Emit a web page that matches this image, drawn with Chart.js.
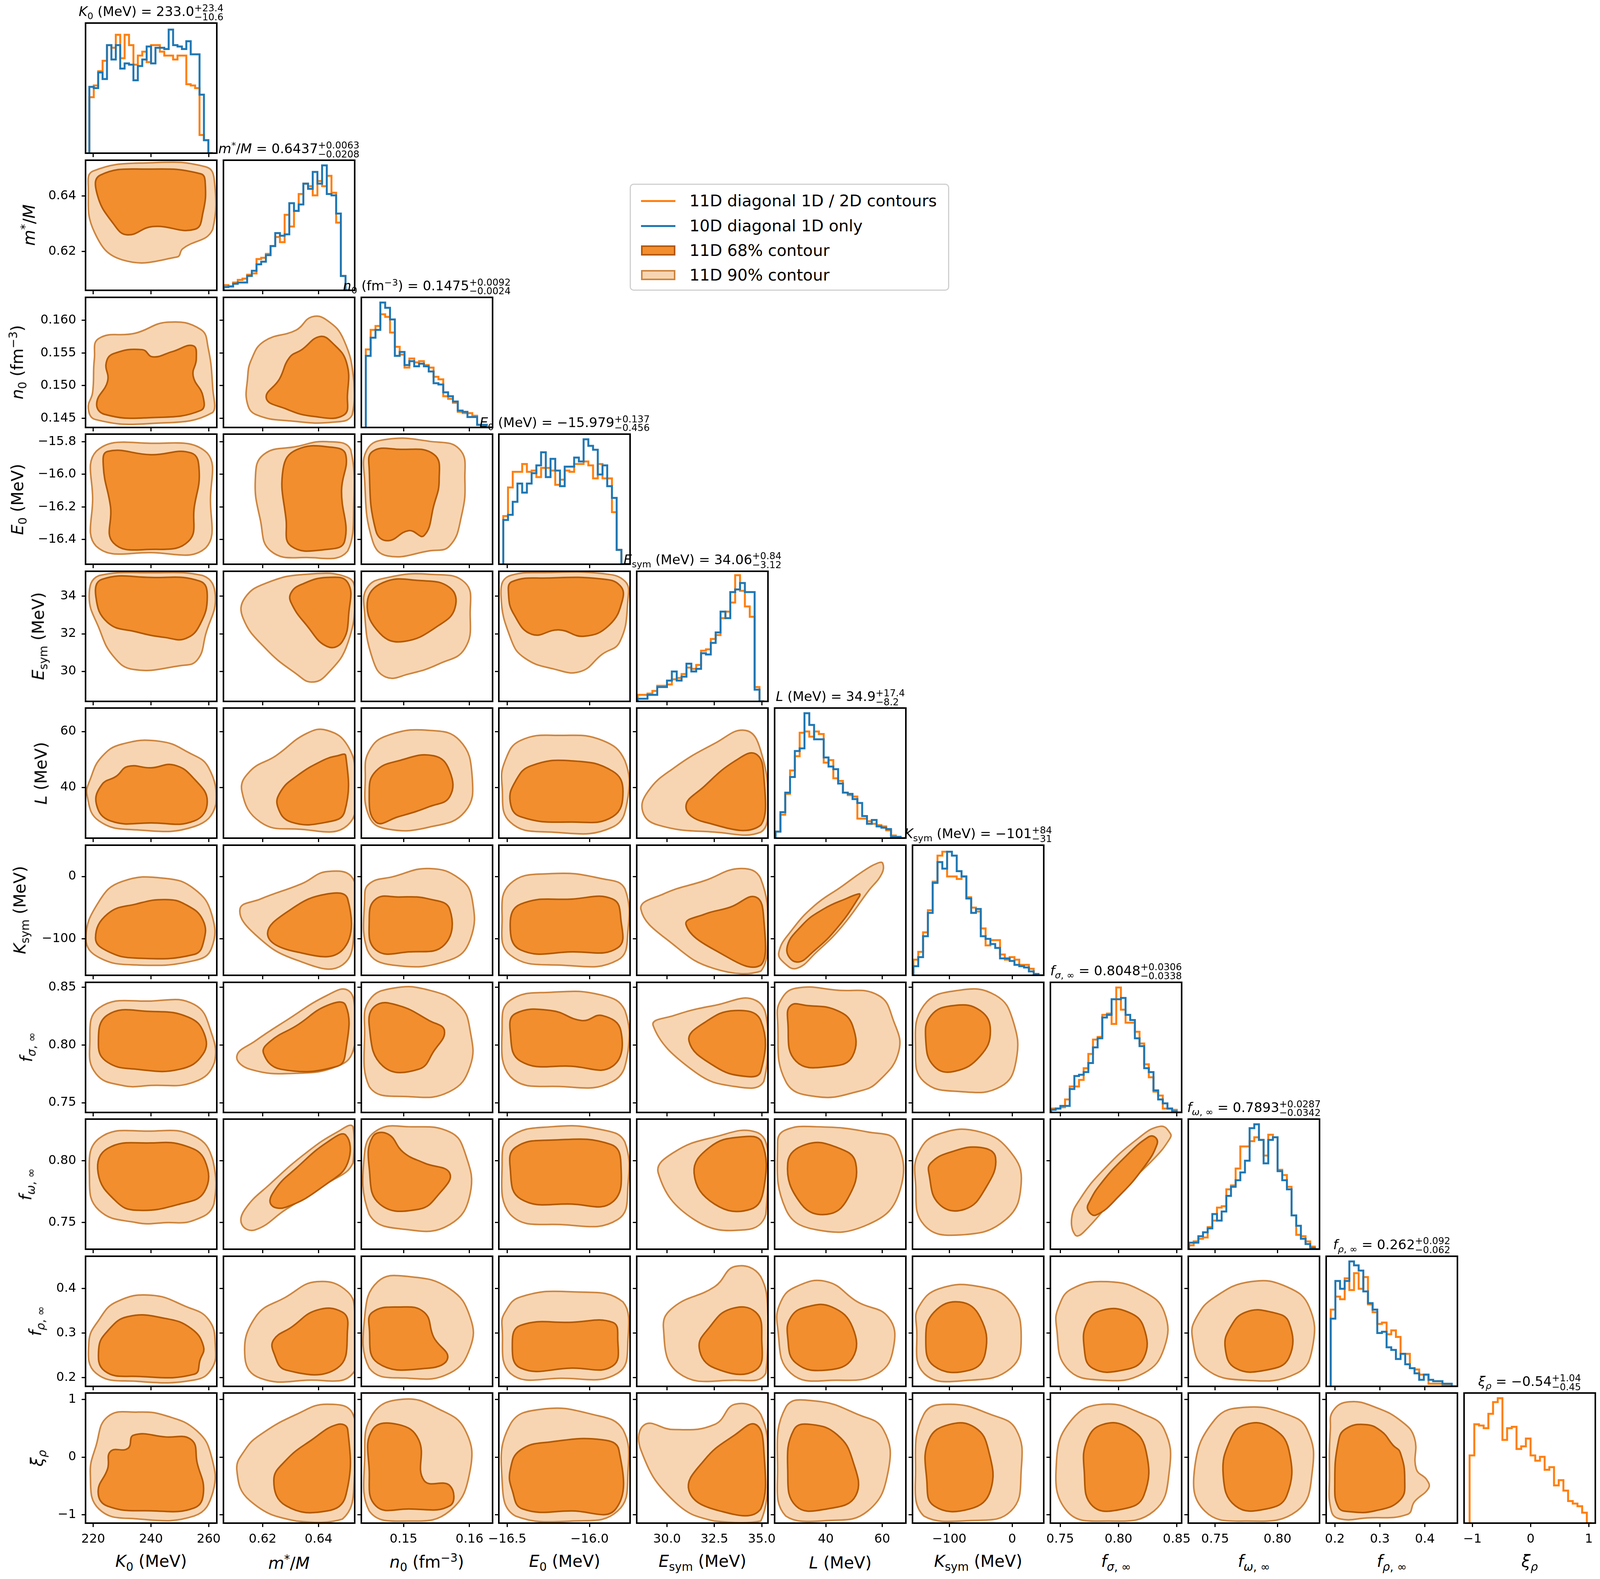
<!DOCTYPE html>
<html lang="en">
<head>
<meta charset="UTF-8">
<title>Corner plot</title>
<script src="https://cdn.jsdelivr.net/npm/chart.js"></script>
<style>
  body { margin:0; background:#fff; font-family:"DejaVu Sans", sans-serif; }
  #page { position:relative; width:4097px; height:4041px; overflow:hidden; }
  canvas { position:absolute; }
  .ttl { position:absolute; font-size:34px; text-align:center; white-space:nowrap; transform:translateY(-100%); }
  .ss { display:inline-block; vertical-align:-0.42em; font-size:0.72em; line-height:0.92; text-align:left; }
  .ss span { display:block; }
  .xl { position:absolute; font-size:42px; text-align:center; white-space:nowrap; transform:translate(-50%,-50%); }
  .yl { position:absolute; font-size:42px; white-space:nowrap; transform:translate(-50%,-50%) rotate(-90deg); }
  sub, sup { font-size:0.7em; }
  #legend { position:absolute; left:1612px; top:470px; width:812px; height:268px; border:3px solid #d0d0d0; border-radius:10px; background:#fff; font-size:41px; }
  .le { position:absolute; left:26px; height:50px; display:flex; align-items:center; }
  .hl { width:88px; height:0; border-top:5px solid; margin-right:36px; }
  .hp { width:88px; height:26px; border:4px solid; box-sizing:border-box; margin-right:36px; }
</style>
</head>
<body>
<div id="page">
  <div id="legend">
    <div class="le" style="top:16px"><div class="hl" style="border-color:#ff7f0e"></div>11D diagonal 1D / 2D contours</div>
    <div class="le" style="top:80px"><div class="hl" style="border-color:#1f77b4"></div>10D diagonal 1D only</div>
    <div class="le" style="top:143px"><div class="hp" style="background:#f28e2e;border-color:#b35900"></div>11D 68% contour</div>
    <div class="le" style="top:206px"><div class="hp" style="background:#f8d5b2;border-color:#cd853f"></div>11D 90% contour</div>
  </div>
</div>
<script>
// ---- axes ----
const axisMin = [217.34, 0.606, 0.1436, -16.551, 28.4, 21.84, -158.6, 0.7416, 0.7285, 0.1807, -1.144];
const axisMax = [262.8, 0.6529, 0.1635, -15.754, 35.33, 68.4, 50.3, 0.8542, 0.8337, 0.4724, 1.111];
const xTickVals = [[220,240,260],[0.62,0.64],[0.15,0.16],[-16.5,-16.0],[30,32.5,35],[40,60],[-100,0],[0.75,0.80,0.85],[0.75,0.80],[0.2,0.3,0.4],[-1,0,1]];
const xTickLabels = [['220','240','260'],['0.62','0.64'],['0.15','0.16'],['\u221216.5','\u221216.0'],['30.0','32.5','35.0'],['40','60'],['\u2212100','0'],['0.75','0.80','0.85'],['0.75','0.80'],['0.2','0.3','0.4'],['\u22121','0','1']];
const yTickVals = [[],[0.62,0.64],[0.145,0.150,0.155,0.160],[-16.4,-16.2,-16.0,-15.8],[30,32,34],[40,60],[-100,0],[0.75,0.80,0.85],[0.75,0.80],[0.2,0.3,0.4],[-1,0,1]];
const yTickLabels = [[],['0.62','0.64'],['0.145','0.150','0.155','0.160'],['\u221216.4','\u221216.2','\u221216.0','\u221215.8'],['30','32','34'],['40','60'],['\u2212100','0'],['0.75','0.80','0.85'],['0.75','0.80'],['0.2','0.3','0.4'],['\u22121','0','1']];
const axisLabels = ['<i>K</i><sub>0</sub> (MeV)','<i>m</i><sup>*</sup>/<i>M</i>','<i>n</i><sub>0</sub> (fm<sup>\u22123</sup>)','<i>E</i><sub>0</sub> (MeV)','<i>E</i><sub>sym</sub> (MeV)','<i>L</i> (MeV)','<i>K</i><sub>sym</sub> (MeV)','<i>f</i><sub><i>\u03c3</i>, \u221e</sub>','<i>f</i><sub><i>\u03c9</i>, \u221e</sub>','<i>f</i><sub><i>\u03c1</i>, \u221e</sub>','<i>\u03be</i><sub><i>\u03c1</i></sub>'];
const titleVals = [['233.0','+23.4','\u221210.6'],['0.6437','+0.0063','\u22120.0208'],['0.1475','+0.0092','\u22120.0024'],['\u221215.979','+0.137','\u22120.456'],['34.06','+0.84','\u22123.12'],['34.9','+17.4','\u22128.2'],['\u2212101','+84','\u221231'],['0.8048','+0.0306','\u22120.0338'],['0.7893','+0.0287','\u22120.0342'],['0.262','+0.092','\u22120.062'],['\u22120.54','+1.04','\u22120.45']];
const yLabelX = [0, 73, 46, 48, 101, 105, 54, 71, 69, 94, 98];

// ---- 1D histograms (fraction of panel height) ----
const binLo = [218.66, 0.6061, 0.14428, -16.524, 28.455, 22.2, -157.1, 0.7422, 0.7291, 0.1908, -1.049];
const binHi = [261.4, 0.6513, 0.16336, -15.778, 35.14, 68.25, 49.6, 0.8540, 0.8337, 0.4702, 1.046];
const blueK0 = [.13,.51,.50,.62,.57,.83,.72,.83,.65,.69,.68,.56,.67,.72,.82,.69,.81,.81,.80,.95,.83,.82,.80,.86,.76,.76,.45,.10];
const orangeK0 = [.12,.43,.52,.63,.71,.83,.81,.91,.73,.91,.83,.68,.75,.78,.70,.83,.83,.78,.75,.75,.72,.75,.75,.53,.52,.50,.14,.10];
const blueM = [.02,.025,.03,.05,.06,.06,.11,.15,.20,.22,.27,.34,.44,.42,.43,.67,.61,.66,.82,.78,.91,.82,.96,.74,.73,.59,.11];
const orangeM = [.03,.04,.03,.06,.08,.09,.12,.13,.24,.25,.28,.34,.41,.37,.58,.49,.61,.74,.82,.80,.73,.84,.80,.88,.75,.52,.11];
const blueN0 = [.08,.55,.69,.75,.96,.92,.83,.55,.58,.48,.51,.47,.49,.47,.43,.34,.33,.27,.24,.20,.13,.12,.08,.08,.02,.02];
const orangeN0 = [.08,.60,.75,.78,.87,.85,.73,.62,.56,.46,.53,.50,.51,.48,.46,.39,.37,.24,.22,.19,.12,.11,.11,.09,.02,.02];
const blueE0 = [.08,.34,.38,.48,.62,.55,.62,.70,.76,.86,.67,.81,.72,.60,.75,.75,.82,.79,.96,.91,.88,.69,.76,.60,.51,.11];
const orangeE0 = [.15,.37,.59,.71,.71,.77,.71,.72,.67,.74,.74,.72,.61,.65,.72,.71,.77,.77,.79,.76,.66,.77,.66,.66,.40,.11];
const blueEsym = [.02,.02,.02,.05,.05,.11,.11,.16,.23,.16,.19,.29,.23,.25,.37,.36,.45,.53,.69,.64,.84,.86,.91,.84,.84,.09];
const orangeEsym = [.04,.05,.05,.06,.08,.12,.12,.13,.17,.18,.21,.26,.25,.28,.39,.40,.48,.51,.64,.69,.76,.97,.85,.73,.65,.11];
const blueL = [.01,.05,.20,.35,.47,.67,.69,.96,.87,.76,.76,.62,.55,.53,.42,.35,.34,.30,.27,.17,.11,.14,.09,.08,.07,.01,.01];
const orangeL = [.01,.05,.18,.34,.52,.63,.81,.82,.78,.82,.80,.58,.60,.46,.44,.35,.33,.32,.15,.15,.13,.11,.10,.09,.06,.02,.01];
const blueKsym = [.01,.07,.14,.30,.48,.71,.87,.82,.95,.92,.80,.76,.59,.48,.51,.30,.28,.24,.21,.13,.13,.11,.08,.07,.06,.03,.01];
const orangeKsym = [.02,.12,.18,.33,.50,.72,.92,.95,.76,.76,.74,.76,.60,.52,.49,.36,.23,.27,.27,.16,.12,.14,.12,.08,.08,.05,.01];
const blueFs = [.02,.02,.03,.05,.05,.18,.28,.29,.31,.38,.50,.57,.73,.75,.87,.87,.88,.75,.71,.57,.51,.34,.31,.17,.10,.07,.03,.01];
const orangeFs = [.01,.03,.03,.04,.10,.20,.20,.25,.34,.45,.56,.58,.75,.76,.68,.96,.79,.69,.69,.62,.53,.37,.27,.16,.13,.03,.03,.02];
const blueFw = [.01,.05,.05,.10,.13,.16,.27,.22,.29,.41,.48,.53,.59,.68,.93,.96,.84,.66,.84,.86,.60,.53,.46,.26,.18,.08,.04,.01];
const orangeFw = [.02,.03,.06,.08,.09,.17,.22,.32,.33,.46,.49,.62,.79,.79,.83,.86,.84,.72,.88,.86,.61,.57,.48,.26,.11,.10,.06,.02];
const blueFr = [.09,.52,.81,.75,.81,.96,.93,.89,.73,.64,.59,.41,.42,.30,.28,.21,.25,.17,.14,.10,.05,.09,.05,.04,.04,.02,.02];
const orangeFr = [.13,.59,.69,.67,.83,.74,.87,.75,.84,.63,.57,.48,.49,.40,.43,.38,.25,.25,.14,.13,.09,.09,.02,.02,.02,.01,.01];
const orangeXi = [.12,.52,.76,.75,.73,.84,.93,.96,.64,.73,.74,.57,.59,.65,.52,.48,.51,.41,.43,.29,.33,.25,.17,.15,.13,.08];
const blueHists = [blueK0, blueM, blueN0, blueE0, blueEsym, blueL, blueKsym, blueFs, blueFw, blueFr, null];
const orangeHists = [orangeK0, orangeM, orangeN0, orangeE0, orangeEsym, orangeL, orangeKsym, orangeFs, orangeFw, orangeFr, orangeXi];

// ---- 2D contours: per row, one entry per column, o = 90%, i = 68% ----
const contourRow1 = [
  {o:[[218.3,.643],[220.4,.627],[230,.617],[249,.618],[251,.621],[261.4,.628],[261.9,.646],[259,.6505],[240,.652],[220,.649]],
   i:[[221.4,.6405],[227,.630],[231.8,.626],[240.6,.629],[255.2,.628],[258,.634],[258.8,.6446],[257.2,.648],[239.6,.6497],[222.4,.6475]]}
];
const contourRow2 = [
  {o:[[218.3,.1465],[220.9,.1448],[239.6,.1442],[261.4,.1459],[261.4,.1496],[259.8,.1558],[257.2,.1586],[245.8,.1597],[234.4,.1580],[221.9,.1572],[220.4,.1541],[219.8,.149]],
   i:[[221.2,.1473],[224,.1456],[239.6,.1451],[257.2,.1462],[258,.1484],[254.6,.1515],[255.7,.1541],[254.6,.1561],[247.4,.1552],[240.6,.1544],[237,.1555],[227.1,.1549],[224.5,.1535],[225,.1507]]},
  {o:[[.6146,.1472],[.618,.1455],[.630,.1446],[.645,.1444],[.652,.1455],[.6526,.1507],[.649,.1570],[.643,.1600],[.6375,.1605],[.632,.1585],[.6206,.1568],[.616,.1540],[.6146,.151]],
   i:[[.6213,.1481],[.628,.1465],[.638,.1453],[.649,.1455],[.6503,.1485],[.650,.1535],[.645,.1565],[.6404,.1575],[.634,.1555],[.6296,.1543],[.626,.1510]]}
];
const contourRow3 = [
  {o:[[219.8,-16.15],[221,-16.44],[240,-16.48],[259,-16.45],[260.6,-16.15],[259.5,-15.87],[240,-15.81],[221,-15.86]],
   i:[[223.5,-15.95],[226,-16.2],[227,-16.42],[240,-16.46],[253,-16.41],[255,-16.2],[256.7,-15.98],[254,-15.87],[240,-15.88],[225,-15.86]]},
  {o:[[.6174,-16.03],[.6192,-16.28],[.6229,-16.47],[.6357,-16.51],[.6504,-16.47],[.6526,-16.16],[.6515,-15.85],[.6431,-15.80],[.6321,-15.83],[.6203,-15.88]],
   i:[[.6273,-15.97],[.6284,-16.28],[.6302,-16.44],[.6431,-16.46],[.6493,-16.41],[.6482,-16.10],[.6497,-15.88],[.6449,-15.835],[.6321,-15.85]]},
  {o:[[.1441,-16.034],[.1453,-16.407],[.1476,-16.50],[.1539,-16.469],[.157,-16.438],[.1588,-16.252],[.1593,-16.034],[.1585,-15.847],[.1539,-15.798],[.1476,-15.785],[.1445,-15.847]],
   i:[[.1448,-15.972],[.1458,-16.345],[.1476,-16.407],[.1508,-16.345],[.1531,-16.376],[.1546,-16.189],[.1554,-16.034],[.1546,-15.878],[.1492,-15.847],[.1453,-15.86]]}
];
const contourRow4 = [
  {o:[[218.6,34.0],[222,32.3],[227,30.8],[234,30.1],[250,30.3],[256,30.6],[259,32.0],[262.3,34.0],[258,35.1],[240,35.25],[222,35.1]],
   i:[[220.9,34.0],[225,32.6],[235,32.1],[245,31.8],[252,31.75],[257,32.5],[259.5,34.0],[257,34.8],[240,35.0],[223,34.9]]},
  {o:[[.6130,32.84],[.6211,31.21],[.6321,29.86],[.6376,29.43],[.6431,29.86],[.6504,31.49],[.653,34.19],[.6504,35.0],[.6357,35.17],[.6218,34.73],[.6137,33.92]],
   i:[[.6302,33.65],[.6357,32.46],[.6431,31.32],[.6485,31.59],[.6508,33.11],[.6504,34.73],[.6431,35.0],[.6339,34.63],[.6302,34.19]]},
  {o:[[.1441,33.11],[.1453,30.67],[.1473,29.7],[.1508,29.86],[.1554,30.4],[.1593,31.22],[.1601,33.11],[.1593,34.73],[.1539,35.17],[.1476,35.0],[.1445,34.46]],
   i:[[.1445,33.65],[.1464,32.03],[.15,31.59],[.1554,32.46],[.1578,33.38],[.157,34.46],[.1523,34.84],[.1469,34.73]]},
  {o:[[-16.538,34.05],[-16.476,31.68],[-16.394,30.71],[-16.219,30.13],[-16.056,29.99],[-15.925,30.9],[-15.816,31.58],[-15.767,33.81],[-15.783,34.78],[-15.925,35.21],[-16.252,35.26],[-16.492,35.07]],
   i:[[-16.492,34.10],[-16.459,33.03],[-16.35,31.97],[-16.187,32.21],[-16.034,31.87],[-15.882,32.45],[-15.80,33.81],[-15.816,34.58],[-15.925,34.92],[-16.252,34.97],[-16.47,34.78]]}
];
const contourRow5 = [
  {o:[[217.9,37],[222,28],[235,24.8],[255,26],[262.5,34],[260,47],[253,52.5],[243,56.5],[230,55.5],[223,51],[219,43]],
   i:[[221.1,34],[226,28],[240,27.3],[255,28],[259.5,35],[255,43],[248,48],[240,47],[232,47.5],[228,44],[223,41]]},
  {o:[[.6126,38.6],[.6192,27.6],[.6321,25.1],[.6504,26.5],[.653,44.0],[.6504,54.9],[.6431,60.4],[.6357,59.3],[.6247,51.3],[.6155,45.8]],
   i:[[.6254,33.1],[.6302,27.6],[.6431,27.6],[.6493,31.3],[.6497,51.3],[.6467,51.3],[.6412,49.5],[.6321,44.0],[.6265,38.6]]},
  {o:[[.1442,44.0],[.1448,29.5],[.1476,25.1],[.1539,25.8],[.1593,31.3],[.1604,44.0],[.1585,56.8],[.1539,60.4],[.1476,58.6],[.1448,53.1]],
   i:[[.1448,38.6],[.1458,27.6],[.1492,29.5],[.1539,33.1],[.157,36.7],[.157,45.8],[.1546,51.3],[.1492,49.5],[.1458,45.8]]},
  {o:[[-16.531,40.4],[-16.482,27.6],[-16.233,24.0],[-15.86,25.8],[-15.766,36.7],[-15.785,49.5],[-15.922,56.8],[-16.171,58.6],[-16.419,56.8],[-16.513,49.5]],
   i:[[-16.482,34.9],[-16.419,29.5],[-16.108,27.6],[-15.86,29.5],[-15.797,38.6],[-15.86,45.8],[-16.108,49.5],[-16.357,47.7],[-16.45,42.2]]},
  {o:[[28.72,31.3],[29.54,26.5],[32.51,24.0],[34.95,24.0],[35.33,33.1],[34.95,53.1],[34.14,60.4],[32.51,55.7],[30.35,46.9],[29.0,38.6]],
   i:[[31.0,33.1],[31.97,27.6],[34.95,26.5],[35.11,44.0],[34.68,52.0],[33.6,49.5],[31.97,40.4]]}
];
const contourRow6 = [
  {o:[[217.5,-100],[222,-130],[235,-142],[255,-135],[261,-115],[261,-60],[255,-20],[245,-3],[230,-8],[222,-40]],
   i:[[220.8,-99],[225,-120],[235,-131],[255,-125],[258.2,-105],[258,-70],[252,-45],[245,-37],[235,-44],[225,-60]]},
  {o:[[.6119,-52.5],[.6174,-93.3],[.6321,-134],[.6485,-142],[.653,-68.8],[.6523,-3.6],[.6431,7.9],[.6339,-11.7],[.6192,-36.2]],
   i:[[.6218,-93.3],[.6321,-121],[.6485,-118],[.6504,-36.2],[.6431,-28],[.6302,-52.5]]},
  {o:[[.1441,-36.2],[.1445,-117.8],[.1484,-142.3],[.157,-134.1],[.1601,-101.5],[.1604,-36.2],[.1585,-3.6],[.1539,12.8],[.1484,-0.3],[.1448,-11.7]],
   i:[[.1448,-68.8],[.1458,-117.8],[.1508,-121],[.1562,-109.6],[.157,-52.5],[.1539,-36.2],[.1492,-32.9],[.1458,-36.2]]},
  {o:[[-16.531,-68.8],[-16.482,-126],[-16.171,-142.3],[-15.829,-134.1],[-15.766,-85.2],[-15.785,-19.9],[-15.922,-3.6],[-16.233,4.6],[-16.482,-11.7]],
   i:[[-16.482,-77],[-16.419,-117.8],[-16.108,-121],[-15.829,-114.5],[-15.81,-68.8],[-15.86,-36.2],[-16.108,-36.2],[-16.419,-44.4]]},
  {o:[[28.62,-52.5],[30.35,-109.6],[32.51,-148],[34.95,-152],[35.33,-85.2],[34.95,-3.6],[33.87,12.8],[31.97,-6.8],[29.81,-28]],
   i:[[31.0,-77],[32.51,-117.8],[34.95,-142.3],[35.11,-68.8],[34.68,-32.9],[33.33,-49.3],[31.97,-60.7]]},
  {o:[[23.35,-121.5],[25.24,-138.7],[29.7,-147.4],[36.68,-121.5],[45.57,-81.1],[55.09,-23.4],[59.86,4.4],[60.18,21.3],[58.27,21.3],[53.18,8.3],[45.57,-16.3],[36.04,-46.5],[27.79,-86.9]],
   i:[[26.2,-115.7],[29.7,-137.3],[36.04,-118.6],[44.3,-81.1],[51.9,-32.1],[51.9,-27.8],[47.47,-35],[39.2,-52.2],[31.6,-78.2]]}
];
const contourRow7 = [
  {o:[[218.8,.80],[221,.775],[230,.765],[240,.765],[255,.768],[262,.785],[261,.81],[255,.835],[240,.838],[222,.832]],
   i:[[221.8,.80],[225,.785],[235,.779],[250,.779],[258,.792],[258.4,.810],[253,.824],[240,.829],[225,.826]]},
  {o:[[.6108,.7904],[.6155,.779],[.6321,.7755],[.6467,.7816],[.6523,.7947],[.653,.8298],[.6504,.8474],[.6431,.843],[.6284,.8211],[.6174,.8035]],
   i:[[.6203,.793],[.6265,.779],[.6467,.7816],[.6497,.7947],[.6497,.8342],[.6431,.8342],[.6321,.8167],[.6229,.8035]]},
  {o:[[.1441,.8123],[.1448,.764],[.1508,.7553],[.157,.7597],[.1601,.7816],[.1601,.8123],[.1585,.8342],[.1539,.8474],[.1484,.8491],[.1448,.8386]],
   i:[[.1448,.8167],[.1469,.7816],[.1523,.779],[.1546,.7947],[.1562,.8123],[.1539,.8211],[.1492,.8342],[.1458,.8342]]},
  {o:[[-16.531,.8167],[-16.482,.7728],[-16.171,.764],[-15.86,.7684],[-15.766,.7947],[-15.785,.8298],[-15.922,.843],[-16.233,.8456],[-16.482,.8386]],
   i:[[-16.482,.8123],[-16.419,.786],[-16.108,.7816],[-15.86,.7816],[-15.81,.8123],[-15.922,.8254],[-16.046,.8211],[-16.233,.8298],[-16.45,.8272]]},
  {o:[[29.27,.8167],[31.43,.7772],[33.6,.764],[35.11,.7684],[35.33,.8123],[34.68,.8386],[32.51,.8342],[30.35,.8254]],
   i:[[31.16,.8035],[32.51,.7816],[34.14,.7728],[34.95,.7772],[34.95,.8211],[33.6,.8298],[31.97,.8193]]},
  {o:[[22.9,.8211],[25.8,.7684],[36.7,.7553],[51.3,.7597],[58.6,.7684],[65.9,.7947],[64.0,.8211],[58.6,.843],[44.0,.8474],[29.4,.8491],[24.0,.8386]],
   i:[[26.5,.8211],[29.4,.786],[42.2,.7816],[49.5,.7904],[49.5,.8167],[44.0,.8298],[33.1,.8342],[27.6,.8342]]},
  {o:[[-153.7,.7947],[-140.6,.7684],[-83.5,.7597],[-18.2,.764],[6.2,.786],[1.3,.8211],[-26.4,.843],[-83.5,.8474],[-140.6,.8342]],
   i:[[-137.4,.8035],[-124.3,.7816],[-91.7,.7772],[-50.9,.7904],[-34.6,.8123],[-50.9,.8298],[-91.7,.8342],[-129.2,.8254]]}
];
const contourRow8 = [
  {o:[[218.7,.785],[222,.76],[235,.750],[245,.750],[255,.752],[261.8,.765],[261.5,.80],[255,.820],[240,.824],[222,.818]],
   i:[[221.7,.790],[228,.767],[235,.760],[250,.765],[258.5,.775],[258.7,.800],[252,.812],[240,.8144],[225,.810]]},
  {o:[[.6126,.7484],[.6174,.7442],[.6284,.7608],[.6431,.7817],[.6523,.7983],[.6523,.8275],[.6467,.8233],[.6357,.8067],[.6229,.7817],[.6137,.7608]],
   i:[[.6229,.765],[.6284,.7625],[.6431,.7817],[.6504,.7983],[.6497,.8208],[.6431,.815],[.6321,.7942],[.6247,.7775]]},
  {o:[[.1441,.8067],[.1448,.7567],[.1508,.7442],[.157,.7484],[.1601,.7733],[.1593,.8067],[.157,.8233],[.1508,.8275],[.1461,.825]],
   i:[[.1448,.7942],[.1464,.765],[.1523,.7608],[.1554,.7733],[.157,.79],[.1531,.7983],[.15,.8067],[.1476,.8217],[.1453,.8192]]},
  {o:[[-16.531,.7983],[-16.482,.7567],[-16.171,.7484],[-15.829,.7525],[-15.766,.7817],[-15.785,.815],[-15.922,.825],[-16.233,.8275],[-16.482,.8192]],
   i:[[-16.482,.7942],[-16.419,.7692],[-16.108,.765],[-15.86,.7667],[-15.81,.7983],[-15.872,.8133],[-16.233,.8167],[-16.45,.8108]]},
  {o:[[29.54,.79],[31.43,.7525],[34.14,.7442],[35.22,.7567],[35.33,.8067],[34.68,.8233],[32.51,.8192],[30.35,.8067]],
   i:[[31.43,.79],[32.51,.765],[34.41,.7608],[35.11,.7775],[35.0,.815],[33.87,.8192],[32.24,.8108]]},
  {o:[[22.9,.815],[25.8,.7608],[36.7,.7442],[54.9,.7484],[65.9,.7733],[65.1,.815],[54.9,.8233],[36.7,.8275],[25.8,.825]],
   i:[[26.5,.7983],[31.3,.765],[40.4,.7567],[47.7,.7692],[50.6,.7983],[44.0,.8108],[33.1,.8133]]},
  {o:[[-153.7,.7817],[-140.6,.7484],[-83.5,.74],[-10.1,.7525],[14.4,.7817],[-1.9,.8067],[-50.9,.8233],[-116.2,.8217],[-148.8,.8067]],
   i:[[-132.5,.79],[-116.2,.765],[-75.4,.7608],[-42.7,.7775],[-26.4,.8025],[-50.9,.8108],[-99.8,.8067],[-129.2,.7983]]},
  {o:[[.7599,.7539],[.763,.7399],[.7699,.7421],[.8007,.7746],[.8315,.8027],[.8438,.8175],[.8446,.8219],[.8361,.8279],[.8161,.8175],[.7853,.7909],[.7668,.7687]],
   i:[[.7737,.7605],[.7807,.7561],[.8007,.7717],[.8222,.7953],[.833,.8131],[.8315,.819],[.8253,.819],[.8053,.8027],[.7853,.782],[.7753,.7672]]}
];
const contourRow9 = [
  {o:[[218.5,.28],[221,.21],[235,.192],[255,.195],[261,.22],[262.3,.27],[260,.33],[252,.36],[240,.385],[228,.37],[222,.33]],
   i:[[221.9,.265],[224,.215],[235,.203],[255,.208],[257,.24],[258.2,.27],[254,.31],[245,.333],[232,.337],[225,.305]]},
  {o:[[.6137,.2445],[.6192,.1989],[.6357,.1944],[.6523,.2103],[.653,.3357],[.6504,.3926],[.6394,.4154],[.6284,.3812],[.6174,.3357]],
   i:[[.624,.2559],[.6284,.2172],[.6467,.2217],[.6504,.3129],[.6485,.3471],[.6394,.3516],[.6302,.3129],[.624,.2855]]},
  {o:[[.1441,.3357],[.1448,.2217],[.1508,.1989],[.157,.2103],[.1601,.2673],[.1601,.3357],[.157,.3995],[.1508,.4268],[.1461,.4154]],
   i:[[.1448,.3129],[.1461,.2331],[.1539,.2217],[.1567,.2445],[.1546,.2901],[.1531,.3471],[.1492,.3585],[.1453,.3471]]},
  {o:[[-16.531,.3129],[-16.482,.2103],[-16.171,.1989],[-15.829,.2103],[-15.766,.2901],[-15.797,.3699],[-16.108,.3926],[-16.419,.3812],[-16.513,.3471]],
   i:[[-16.469,.2787],[-16.419,.2217],[-16.108,.2217],[-15.86,.2263],[-15.829,.2901],[-15.86,.3243],[-16.108,.3243],[-16.419,.3175]]},
  {o:[[29.81,.3129],[30.62,.2103],[33.6,.1944],[35.22,.2103],[35.33,.3357],[34.95,.4268],[33.6,.4496],[32.51,.404],[30.35,.3585]],
   i:[[31.7,.2673],[32.51,.2217],[34.68,.2172],[35.0,.2901],[34.68,.3471],[33.33,.3539],[32.24,.3129]]},
  {o:[[22.9,.3129],[27.6,.2103],[44.0,.1944],[58.6,.2103],[64.0,.2673],[62.2,.3357],[51.3,.3699],[40.4,.4154],[29.4,.404],[24.0,.3699]],
   i:[[26.5,.2901],[29.4,.2331],[40.4,.2172],[49.5,.2445],[49.5,.3129],[42.2,.3585],[33.1,.3585],[27.6,.3357]]},
  {o:[[-152.1,.3129],[-140.6,.2103],[-67.2,.1944],[-1.9,.2217],[14.4,.2901],[-1.9,.3699],[-50.9,.404],[-116.2,.3995],[-148.8,.3585]],
   i:[[-137.4,.2901],[-124.3,.2263],[-67.2,.2172],[-42.7,.2559],[-50.9,.3357],[-83.5,.3699],[-124.3,.3471]]},
  {o:[[.7469,.3129],[.7557,.2217],[.7865,.1944],[.8217,.2103],[.8393,.2673],[.8393,.3471],[.8217,.3926],[.7909,.4154],[.7601,.3995],[.7486,.3585]],
   i:[[.7706,.2673],[.7777,.2217],[.8041,.2172],[.8217,.2445],[.8217,.3129],[.8085,.3471],[.7865,.3516],[.7733,.3243]]},
  {o:[[.7318,.2901],[.7417,.2217],[.7745,.1944],[.8156,.2103],[.828,.2673],[.8255,.3585],[.8074,.404],[.7786,.4154],[.7499,.3812],[.7351,.3357]],
   i:[[.7581,.2673],[.7663,.2217],[.791,.2172],[.8091,.2445],[.8091,.3243],[.7951,.3471],[.7745,.3471],[.7622,.3129]]}
];
const contourRow10 = [
  {o:[[219,-0.3],[222,-0.9],[235,-1.07],[255,-1.02],[261.5,-0.6],[261,0.0],[256,0.45],[245,0.72],[235,0.78],[225,0.7],[221,0.2]],
   i:[[221.7,-0.6],[225,-0.85],[240,-0.93],[255,-0.88],[258.2,-0.6],[256,-0.1],[254,0.3],[245,0.35],[234,0.38],[232,0.15],[226,0.1],[225,-0.2]]},
  {o:[[.6108,-.228],[.6155,-.757],[.6321,-1.109],[.6485,-1.074],[.653,-.228],[.6523,.741],[.6431,.917],[.6321,.741],[.6192,.389],[.6137,.124]],
   i:[[.624,-.404],[.6284,-.845],[.6431,-.933],[.6497,-.669],[.6504,.477],[.6467,.565],[.6376,.3],[.6284,-.052]]},
  {o:[[.1441,-.052],[.1448,-.933],[.1508,-1.109],[.157,-.933],[.1601,-.228],[.1593,.477],[.1554,.829],[.15,1.005],[.1453,.741]],
   i:[[.1448,-.228],[.1458,-.845],[.1508,-.898],[.157,-.845],[.157,-.492],[.1531,-.404],[.1523,.3],[.1492,.565],[.1453,.477]]},
  {o:[[-16.531,-.404],[-16.45,-1.021],[-16.108,-1.109],[-15.829,-.933],[-15.766,-.228],[-15.797,.477],[-15.984,.741],[-16.295,.829],[-16.482,.565]],
   i:[[-16.469,-.581],[-16.407,-.898],[-16.108,-.933],[-15.841,-.898],[-15.822,.124],[-15.922,.3],[-16.233,.265],[-16.419,.124],[-16.482,-.228]]},
  {o:[[28.62,.124],[30.35,-.757],[32.51,-1.109],[34.95,-1.109],[35.33,-.052],[34.95,.741],[33.6,.917],[32.51,.565],[30.35,.477],[28.83,.565]],
   i:[[31.16,-.581],[32.79,-.933],[34.95,-.898],[35.11,.124],[34.68,.565],[33.6,.389],[31.97,-.052]]},
  {o:[[22.9,-.228],[25.8,-1.021],[40.4,-1.1],[54.9,-.933],[62.2,-.228],[60.4,.477],[51.3,.741],[36.7,.97],[25.8,.864]],
   i:[[26.5,-.228],[29.4,-.845],[40.4,-.898],[50.6,-.669],[49.5,-.052],[44.0,.389],[34.9,.565],[28.7,.477]]},
  {o:[[-153.7,-.228],[-140.6,-1.021],[-67.2,-1.1],[-1.9,-.933],[14.4,-.228],[6.2,.477],[-34.6,.741],[-99.8,.917],[-140.6,.741]],
   i:[[-135.8,-.404],[-124.3,-.845],[-67.2,-.898],[-34.6,-.581],[-37.8,.124],[-59.1,.512],[-99.8,.565],[-132.5,.3]]},
  {o:[[.7469,-.052],[.7557,-.933],[.7909,-1.109],[.8305,-.933],[.8437,-.228],[.8393,.477],[.8217,.741],[.7865,.917],[.7601,.653]],
   i:[[.7706,-.228],[.7777,-.845],[.8041,-.898],[.8217,-.669],[.8234,.124],[.8085,.512],[.7865,.565],[.7733,.3]]},
  {o:[[.7334,-.228],[.7417,-.933],[.7745,-1.109],[.8156,-.933],[.828,-.228],[.8238,.477],[.8074,.741],[.7745,.864],[.7499,.653]],
   i:[[.7565,-.316],[.7663,-.845],[.791,-.898],[.8074,-.669],[.8091,.124],[.7951,.512],[.7745,.565],[.7622,.3]]},
  {o:[[.1881,-.3],[.192,-.929],[.2116,-1.071],[.2706,-1.055],[.3612,-.992],[.377,-.772],[.4084,-.536],[.4045,-.395],[.3809,-.205],[.377,.329],[.3494,.612],[.2903,.863],[.2313,.958],[.1959,.801],[.19,.486]],
   i:[[.1999,-.457],[.2077,-.866],[.2313,-.945],[.2903,-.929],[.3454,-.74],[.3553,-.395],[.3454,.078],[.3297,.203],[.3022,.455],[.2667,.565],[.2234,.486],[.2077,.266]]}
];
const contourRows = [null, contourRow1, contourRow2, contourRow3, contourRow4, contourRow5, contourRow6, contourRow7, contourRow8, contourRow9, contourRow10];

// ---- layout ----
const X0 = 218.75, DX = 352.9, PW = 336, Y0 = 59.3, DY = 350.6, PH = 333;
const PL = 160, PR = 50, PT = 20, PB = 110;
const FONT = '"DejaVu Sans", sans-serif';
const page = document.getElementById('page');

// fill the closed spline built by Chart.js for a contour dataset
const shapeFill = {
  id: 'shapeFill',
  beforeDatasetDraw(chart, args) {
    const ds = chart.data.datasets[args.index];
    if (!ds.shapeFill) return;
    const pts = args.meta.data, n = pts.length, ctx = chart.ctx, a = chart.chartArea;
    ctx.save();
    ctx.beginPath(); ctx.rect(a.left, a.top, a.right - a.left, a.bottom - a.top); ctx.clip();
    ctx.beginPath();
    ctx.moveTo(pts[1].x, pts[1].y);
    for (let k = 2; k <= n - 2; k++) {
      const p = pts[k - 1], q = pts[k];
      ctx.bezierCurveTo(p.cp2x, p.cp2y, q.cp1x, q.cp1y, q.x, q.y);
    }
    ctx.closePath();
    ctx.fillStyle = ds.shapeFill;
    ctx.fill();
    ctx.restore();
  }
};
const frame = {
  id: 'frame',
  afterDraw(chart) {
    const a = chart.chartArea, ctx = chart.ctx;
    ctx.save(); ctx.lineWidth = 4; ctx.strokeStyle = '#000';
    ctx.strokeRect(a.left, a.top, a.right - a.left, a.bottom - a.top);
    ctx.restore();
  }
};

function closedData(pts) {
  const arr = [pts[pts.length - 1]].concat(pts, [pts[0], pts[1]]);
  return arr.map(p => ({x: p[0], y: p[1]}));
}
function contourSet(pts, edge, fillCol) {
  const n = pts.length;
  return {
    data: closedData(pts), showLine: true, tension: 0.45, pointRadius: 0,
    borderColor: edge, borderWidth: 4, shapeFill: fillCol,
    segment: { borderColor: c => (c.p0DataIndex === 0 || c.p0DataIndex === n + 1) ? 'rgba(0,0,0,0)' : undefined }
  };
}
function histSet(j, vals, color) {
  const w = (binHi[j] - binLo[j]) / vals.length;
  const data = [{x: binLo[j], y: 0}];
  vals.forEach((v, k) => data.push({x: binLo[j] + k * w, y: v}));
  data.push({x: binHi[j], y: 0});
  return { data, showLine: true, stepped: 'after', pointRadius: 0, borderColor: color, borderWidth: 5 };
}

function axisCfg(isX, vals, labels, min, max, showLabels, hideTicks) {
  return {
    type: 'linear', min, max,
    afterBuildTicks: s => { s.ticks = vals.map(v => ({value: v})); },
    ticks: { display: showLabels, autoSkip: false, maxRotation: 0, padding: isX ? 12 : 14,
             color: '#000', font: {size: 32, family: FONT},
             callback: (v, k) => labels[k] },
    grid: { display: !hideTicks, drawOnChartArea: false, drawTicks: true, tickLength: 10, color: '#000', lineWidth: 3 },
    border: { display: false },
    afterFit: s => {
      if (isX) { s.height = PB; s.paddingLeft = 0; s.paddingRight = 0; }
      else { s.width = PL; s.paddingTop = 0; s.paddingBottom = 0; }
    }
  };
}

function makePanel(i, j, datasets, isHist) {
  const cv = document.createElement('canvas');
  const w = PL + PW + PR, h = PT + PH + PB;
  cv.width = w; cv.height = h;
  cv.style.left = (X0 + j * DX - PL) + 'px';
  cv.style.top = (Y0 + i * DY - PT) + 'px';
  cv.style.width = w + 'px'; cv.style.height = h + 'px';
  page.appendChild(cv);
  new Chart(cv, {
    type: 'scatter',
    data: { datasets },
    options: {
      responsive: false, animation: false, devicePixelRatio: 1,
      layout: { padding: {left: 0, right: PR, top: PT, bottom: 0} },
      plugins: { legend: {display: false}, tooltip: {enabled: false} },
      scales: {
        x: axisCfg(true, xTickVals[j], xTickLabels[j], axisMin[j], axisMax[j], i === 10, false),
        y: isHist ? axisCfg(false, [], [], 0, 1.0, false, true)
                  : axisCfg(false, yTickVals[i], yTickLabels[i], axisMin[i], axisMax[i], j === 0, false)
      }
    },
    plugins: [shapeFill, frame]
  });
}

for (let i = 0; i < 11; i++) {
  for (let j = 0; j < i; j++) {
    const c = contourRows[i][j];
    makePanel(i, j, [contourSet(c.i, '#b35900', '#f28e2e'), contourSet(c.o, '#cd853f', '#f8d5b2')], false);
  }
  const hs = [];
  if (blueHists[i]) hs.push(histSet(i, blueHists[i], '#1f77b4'));
  hs.push(histSet(i, orangeHists[i], '#ff7f0e'));
  makePanel(i, i, hs, true);

  // histogram title
  const t = document.createElement('div');
  t.className = 'ttl';
  const tv = titleVals[i];
  t.innerHTML = axisLabels[i] + ' = ' + tv[0] + '<span class="ss"><span>' + tv[1] + '</span><span>' + tv[2] + '</span></span>';
  t.style.left = (X0 + i * DX - 100) + 'px';
  t.style.width = (PW + 200) + 'px';
  t.style.top = (Y0 + i * DY - 4) + 'px';
  page.appendChild(t);

  // bottom axis label
  const xl = document.createElement('div');
  xl.className = 'xl'; xl.innerHTML = axisLabels[i];
  xl.style.left = (X0 + i * DX + PW / 2) + 'px';
  xl.style.top = '3999px';
  page.appendChild(xl);

  // left axis label
  if (i > 0) {
    const yl = document.createElement('div');
    yl.className = 'yl'; yl.innerHTML = axisLabels[i];
    yl.style.left = yLabelX[i] + 'px';
    yl.style.top = (Y0 + i * DY + PH / 2) + 'px';
    page.appendChild(yl);
  }
}
</script>
</body>
</html>
